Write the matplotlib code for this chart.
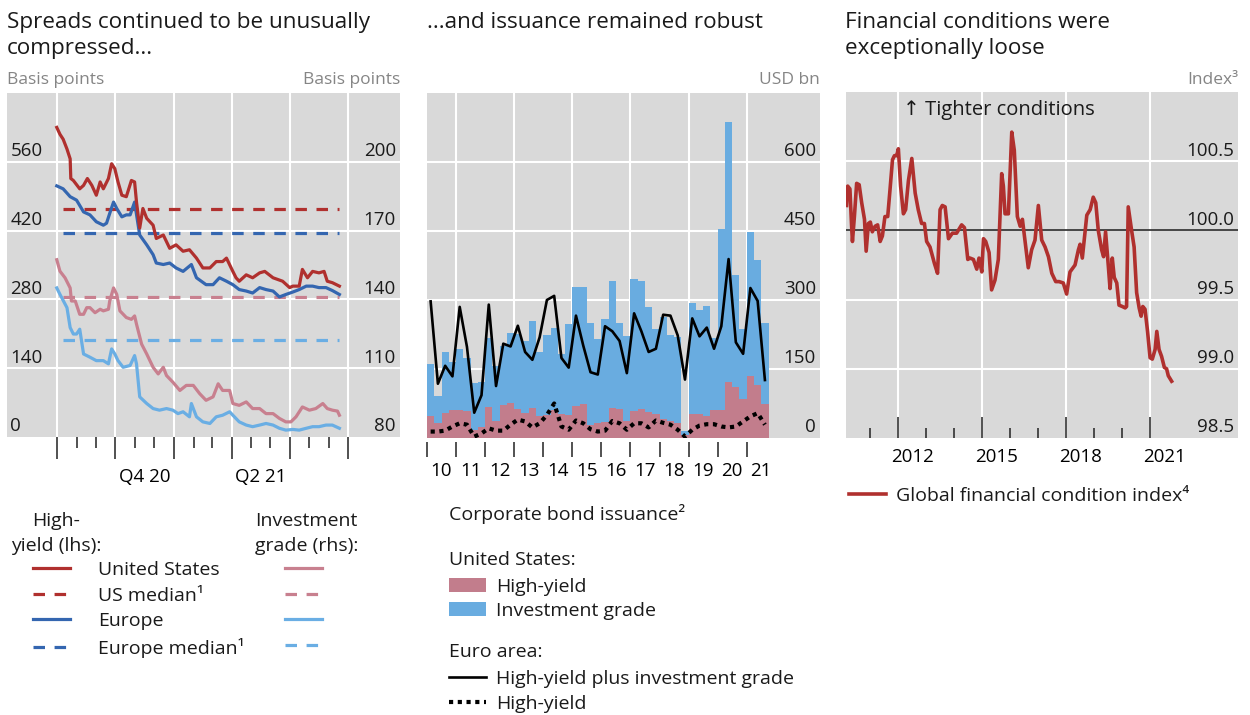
import matplotlib
matplotlib.use("Agg")
import matplotlib.pyplot as plt
import numpy as np
import pandas as pd

plt.rcParams.update({
    "font.family": ["Open Sans", "DejaVu Sans"],
    "font.size": 14,
    "text.color": "#1a1a1a",
})

# ---------------- panel 1: spreads, days since 1 Jul 2020 ----------------
START = pd.Timestamp("2020-07-01")
us_hy_day = [0, 5, 10, 16, 21, 22, 26, 36, 42, 48, 55, 62, 68, 73, 81, 86, 91, 96, 102, 109,
             117, 122, 125, 130, 135, 141, 151, 156, 167, 177, 187, 198, 208, 219, 229, 240,
             250, 260, 266, 276, 281, 286, 297, 307, 318, 326, 339, 354, 365, 370, 380, 385,
             393, 401, 411, 419, 424, 432, 443]
us_hy_bp = [630, 616, 606, 586, 566, 526, 522, 505, 512, 526, 512, 492, 519, 505, 526, 556,
            546, 519, 492, 489, 522, 519, 478, 425, 465, 445, 431, 404, 411, 384, 391, 378,
            381, 364, 344, 344, 357, 357, 364, 337, 324, 317, 330, 324, 334, 337, 324, 317,
            304, 307, 307, 341, 324, 337, 334, 337, 317, 314, 307]
eu_hy_day = [0, 10, 21, 31, 42, 52, 62, 73, 78, 83, 89, 94, 102, 109, 115, 122, 130, 141,
             151, 156, 167, 177, 187, 198, 211, 219, 234, 245, 255, 266, 276, 286, 297, 307,
             318, 328, 339, 349, 359, 370, 380, 391, 401, 411, 422, 432, 443]
eu_hy_bp = [511, 505, 489, 482, 458, 452, 438, 431, 435, 455, 478, 465, 448, 452, 452, 478,
            411, 391, 371, 354, 351, 354, 344, 337, 351, 324, 310, 310, 324, 317, 310, 300,
            297, 293, 304, 300, 297, 285, 290, 295, 300, 307, 307, 304, 304, 298, 290]
us_ig_day = [0, 5, 13, 21, 23, 29, 36, 42, 47, 52, 60, 68, 73, 81, 83, 89, 94, 99, 109, 117,
             122, 125, 133, 141, 151, 159, 167, 172, 182, 193, 203, 214, 224, 234, 245, 253,
             260, 271, 276, 286, 297, 307, 318, 328, 339, 349, 359, 367, 375, 385, 396, 406,
             417, 424, 432, 440, 443]
us_ig_bp = [157.3, 152.3, 149.4, 145.0, 139.3, 139.3, 133.5, 133.5, 136.4, 136.4, 134.2,
            135.7, 135.0, 135.7, 139.3, 145.0, 142.2, 135.0, 132.1, 131.3, 132.8, 129.2,
            120.5, 116.2, 110.4, 107.5, 110.4, 106.8, 103.9, 100.3, 102.5, 102.5, 98.9, 96.0,
            97.5, 103.2, 100.3, 100.3, 94.6, 93.8, 95.3, 92.4, 92.4, 90.2, 90.2, 88.1, 86.6,
            86.6, 88.8, 93.1, 91.7, 92.4, 94.6, 92.4, 91.7, 91.3, 89.5]
eu_ig_day = [0, 5, 16, 21, 26, 31, 36, 42, 52, 62, 73, 81, 86, 91, 96, 104, 115, 122, 125,
             130, 141, 151, 161, 172, 182, 190, 198, 208, 211, 219, 229, 240, 250, 260, 271,
             276, 286, 297, 307, 318, 328, 339, 349, 359, 370, 380, 391, 401, 411, 422, 432,
             443]
eu_ig_bp = [145.0, 142.2, 136.4, 127.7, 124.9, 124.9, 127.0, 116.2, 114.8, 113.3, 113.3,
            111.9, 118.4, 116.2, 113.3, 110.4, 111.2, 115.5, 111.9, 97.5, 94.6, 92.4, 91.7,
            92.4, 91.7, 90.2, 91.0, 88.8, 94.6, 88.8, 86.6, 85.9, 88.8, 89.5, 91.0, 89.5,
            86.6, 85.2, 84.5, 85.2, 85.9, 85.2, 83.8, 83.0, 83.3, 83.0, 83.8, 84.5, 84.5,
            85.2, 85.2, 83.8]
median_days = [10, 443]
us_hy_median = 463
eu_hy_median = 415
us_ig_median = 141
eu_ig_median = 122.5
lhs_ticks = [0, 140, 280, 420, 560]
rhs_ticks = [80, 110, 140, 170, 200]
quarter_labels = ["Q4 20", "Q2 21"]
labelled_quarters = ["2020-10-01", "2021-04-01"]

# ---------------- panel 2: corporate bond issuance, USD bn ----------------
quarters = pd.period_range("2010Q1", "2021Q3", freq="Q")
us_hy_iss = [48, 33, 55, 60, 60, 58, 17, 24, 68, 37, 71, 76, 62, 55, 66, 48, 50, 60, 52, 49,
             70, 73, 28, 32, 35, 66, 62, 36, 58, 64, 56, 52, 42, 36, 33, 6, 52, 52, 48, 61,
             61, 122, 110, 84, 134, 116, 74]
us_ig_iss = [112, 58, 133, 105, 133, 116, 103, 98, 149, 119, 128, 153, 165, 156, 188, 140,
             175, 180, 130, 198, 259, 256, 221, 184, 224, 276, 189, 185, 288, 278, 228, 184,
             220, 189, 186, 9, 242, 227, 240, 157, 394, 566, 245, 154, 314, 272, 177]
ea_total_iss = [297, 118, 157, 134, 285, 198, 55, 93, 290, 113, 205, 199, 244, 187, 170, 219,
                300, 309, 174, 153, 266, 201, 143, 138, 243, 232, 211, 141, 271, 232, 187,
                194, 268, 266, 223, 127, 260, 221, 240, 194, 243, 389, 208, 183, 326, 298, 126]
ea_hy_iss = [14, 14, 16, 25, 32, 29, 3, 10, 21, 16, 16, 29, 40, 36, 23, 32, 50, 75, 25, 18,
             38, 32, 19, 14, 16, 37, 32, 18, 32, 32, 23, 38, 33, 29, 18, 3, 18, 27, 30, 30,
             25, 23, 25, 36, 47, 54, 29]
iss_ticks = [0, 150, 300, 450, 600]

# ---------------- panel 3: global financial conditions index ----------------
fci_year = [2010.15, 2010.19, 2010.27, 2010.33, 2010.36, 2010.43, 2010.51, 2010.60, 2010.69,
            2010.79, 2010.85, 2010.93, 2011.00, 2011.07, 2011.17, 2011.26, 2011.35, 2011.43,
            2011.52, 2011.62, 2011.70, 2011.79, 2011.86, 2011.94, 2012.00, 2012.08, 2012.18,
            2012.26, 2012.36, 2012.48, 2012.60, 2012.71, 2012.83, 2012.93, 2013.01, 2013.13,
            2013.29, 2013.40, 2013.49, 2013.57, 2013.67, 2013.79, 2013.93, 2014.08, 2014.26,
            2014.36, 2014.48, 2014.56, 2014.68, 2014.80, 2014.88, 2014.98, 2015.04, 2015.12,
            2015.24, 2015.33, 2015.45, 2015.57, 2015.69, 2015.75, 2015.81, 2015.93, 2016.05,
            2016.14, 2016.25, 2016.35, 2016.43, 2016.52, 2016.64, 2016.76, 2016.88, 2017.00,
            2017.12, 2017.24, 2017.36, 2017.48, 2017.62, 2017.74, 2017.89, 2018.01, 2018.13,
            2018.31, 2018.43, 2018.49, 2018.57, 2018.73, 2018.85, 2018.96, 2019.05, 2019.14,
            2019.26, 2019.33, 2019.40, 2019.50, 2019.56, 2019.64, 2019.71, 2019.80, 2019.88,
            2020.00, 2020.10, 2020.15, 2020.21, 2020.33, 2020.42, 2020.51, 2020.60, 2020.67,
            2020.73, 2020.81, 2020.90, 2020.99, 2021.07, 2021.17, 2021.23, 2021.31, 2021.40,
            2021.50, 2021.58, 2021.64, 2021.76]
fci_value = [100.18, 100.32, 100.30, 100.03, 99.92, 100.10, 100.34, 100.33, 100.20, 100.08,
             99.85, 100.05, 100.06, 99.99, 100.03, 100.04, 99.92, 99.96, 100.10, 100.10,
             100.29, 100.51, 100.54, 100.54, 100.59, 100.32, 100.12, 100.15, 100.36, 100.52,
             100.27, 100.15, 100.05, 100.05, 99.92, 99.88, 99.76, 99.69, 100.15, 100.18,
             100.17, 99.94, 99.98, 99.98, 100.04, 100.02, 99.79, 99.80, 99.79, 99.72, 99.80,
             99.70, 99.94, 99.92, 99.84, 99.57, 99.64, 99.79, 100.41, 100.32, 100.12, 100.12,
             100.71, 100.58, 100.10, 100.03, 100.08, 99.93, 99.73, 99.86, 99.93, 100.18,
             99.93, 99.88, 99.81, 99.69, 99.63, 99.63, 99.62, 99.54, 99.70, 99.75, 99.86,
             99.90, 99.80, 100.11, 100.15, 100.24, 100.20, 100.00, 99.86, 99.81, 99.99,
             99.74, 99.58, 99.80, 99.66, 99.62, 99.46, 99.45, 99.44, 99.45, 100.17, 100.00,
             99.88, 99.55, 99.44, 99.38, 99.45, 99.43, 99.27, 99.08, 99.07, 99.14, 99.27,
             99.14, 99.09, 99.01, 99.00, 98.95, 98.91]
fci_ticks = [98.5, 99.0, 99.5, 100.0, 100.5]
fci_neutral = 100.0

# ---------------- styling ----------------
RED, BLUE, PINK, LBLUE = "#B0302E", "#3466B0", "#C8808F", "#6AAEE4"
BAR_PINK, BAR_BLUE = "#C27D8C", "#69ACE0"
BG, GREY, TICK = "#D9D9D9", "#858585", "#222222"
W, H = 1250, 715
TICK_FS = 13.5

fig = plt.figure(figsize=(W / 100, H / 100), dpi=100)


def rect(x0, y0, x1, y1):
    return [x0 / W, 1 - y1 / H, (x1 - x0) / W, (y1 - y0) / H]


def base(ax):
    ax.set_facecolor(BG)
    for s in ax.spines.values():
        s.set_visible(False)
    ax.tick_params(axis="y", length=0, labelleft=False, labelright=False)
    ax.tick_params(axis="x", labelbottom=False, color=TICK, width=1.1)
    ax.set_axisbelow(True)


def ylabels(ax, ticks, side, fmt="{:g}"):
    for v in ticks:
        if side == "left":
            ax.annotate(fmt.format(v), xy=(0, v), xycoords=("axes fraction", "data"),
                        xytext=(2.5, 4), textcoords="offset points", ha="left",
                        va="baseline", fontsize=TICK_FS)
        else:
            ax.annotate(fmt.format(v), xy=(1, v), xycoords=("axes fraction", "data"),
                        xytext=(-3, 4), textcoords="offset points", ha="right",
                        va="baseline", fontsize=TICK_FS)


def xlabels(ax, pos, labels, pad):
    sec = ax.secondary_xaxis("bottom")
    sec.set_xticks(pos, labels=labels, fontsize=TICK_FS)
    sec.tick_params(length=0, pad=pad)
    sec.spines["bottom"].set_visible(False)


# ----- panel 1 -----
ax1 = fig.add_axes(rect(7, 93, 400, 437))
base(ax1)
ax1.set_ylim(0, 700)
ax1.set_yticks(lhs_ticks[1:])
ax1.set_xlim(-78, 538)
q_days = [(d - START).days for d in pd.date_range("2020-07-01", "2021-10-01", freq="QS")]
m_days = [(d - START).days for d in pd.date_range("2020-07-01", "2021-10-01", freq="MS")]
ax1.set_xticks(q_days)
ax1.set_xticks(m_days, minor=True)
ax1.tick_params(axis="x", which="major", length=16)
ax1.tick_params(axis="x", which="minor", length=8, color=TICK, width=1.1)
ax1.grid(True, which="major", color="white", lw=1.5)
mid_days = [(pd.Timestamp(q) - START).days + 45.5 for q in labelled_quarters]
xlabels(ax1, mid_days, quarter_labels, 22)

dash = (0, (3.6, 3.0))
l_usm, = ax1.plot(median_days, [us_hy_median] * 2, color=RED, lw=2.3, ls=dash)
l_eum, = ax1.plot(median_days, [eu_hy_median] * 2, color=BLUE, lw=2.3, ls=dash)
ax1r = ax1.twinx()
ax1r.set_ylim(80, 230)
for s in ax1r.spines.values():
    s.set_visible(False)
ax1r.tick_params(axis="y", length=0, labelright=False)
l_usigm, = ax1r.plot(median_days, [us_ig_median] * 2, color=PINK, lw=2.3, ls=dash)
l_euigm, = ax1r.plot(median_days, [eu_ig_median] * 2, color=LBLUE, lw=2.3, ls=dash)
l_euig, = ax1r.plot(eu_ig_day, eu_ig_bp, color=LBLUE, lw=2.3)
l_usig, = ax1r.plot(us_ig_day, us_ig_bp, color=PINK, lw=2.3)
# high-yield series on the left scale, drawn on the twin so they sit above the medians
l_eu, = ax1r.plot(eu_hy_day, np.array(eu_hy_bp) * 30 / 140 + 80, color=BLUE, lw=2.3)
l_us, = ax1r.plot(us_hy_day, np.array(us_hy_bp) * 30 / 140 + 80, color=RED, lw=2.3)
ylabels(ax1, lhs_ticks, "left")
ylabels(ax1r, rhs_ticks, "right")

# ----- panel 2 -----
ax2 = fig.add_axes(rect(427, 93, 820, 438))
base(ax2)
ax2.set_ylim(0, 750)
ax2.set_yticks(iss_ticks[1:])
ax2.set_xlim(2010, 2023.52)
qx = np.array(quarters.year + (quarters.quarter - 1) / 4, dtype=float)
years2 = list(range(2010, 2022))
ax2.set_xticks(years2[1::2])
ax2.set_xticks(years2, minor=True)
ax2.tick_params(axis="x", which="both", length=11, color=TICK, width=1.1)
ax2.spines["bottom"].set_position(("outward", 3))
ax2.grid(True, which="major", color="white", lw=1.5)
b_hy = ax2.bar(qx, us_hy_iss, width=0.25, align="edge", color=BAR_PINK, lw=0)
b_ig = ax2.bar(qx, us_ig_iss, width=0.25, align="edge", bottom=us_hy_iss, color=BAR_BLUE, lw=0)
l_tot, = ax2.plot(qx + 0.125, ea_total_iss, color="black", lw=1.9)
l_ehy, = ax2.plot(qx + 0.125, ea_hy_iss, color="black", lw=3.0, ls=(0, (1, 1.1)))
ylabels(ax2, iss_ticks, "right")
xlabels(ax2, [y + 0.5 for y in years2], [f"{y % 100:02d}" for y in years2], 17)

# ----- panel 3 -----
ax3 = fig.add_axes(rect(846, 92, 1238, 438))
base(ax3)
ax3.set_ylim(98.5, 101.0)
ax3.set_yticks([99.0, 99.5, 100.5])
ax3.set_xlim(2010.13, 2024.13)
years3 = list(range(2011, 2022))
ax3.set_xticks(years3[1::3])
ax3.set_xticks(years3, minor=True)
ax3.tick_params(axis="x", which="major", direction="in", length=15)
ax3.tick_params(axis="x", which="minor", direction="in", length=7.5, color=TICK, width=1.1)
ax3.grid(True, which="major", color="white", lw=1.5)
ax3.axhline(fci_neutral, color="#3a3a3a", lw=1.3)
l_fci, = ax3.plot(fci_year, fci_value, color=RED, lw=2.6)
ylabels(ax3, fci_ticks, "right", "{:.1f}")
xlabels(ax3, [y + 0.5 for y in years3[1::3]], [str(y) for y in years3[1::3]], 7.5)
ax3.text(0.145, 0.948, "↑ Tighter conditions", transform=ax3.transAxes, va="center",
         fontsize=14.5)

# ----- titles and units -----
tkw = dict(va="top", fontsize=16.2, linespacing=1.31)
fig.text(7 / W, 1 - 12 / H, "Spreads continued to be unusually\ncompressed...", **tkw)
fig.text(427 / W, 1 - 12 / H, "...and issuance remained robust", **tkw)
fig.text(845 / W, 1 - 12 / H, "Financial conditions were\nexceptionally loose", **tkw)
ukw = dict(va="center", fontsize=12.5, color=GREY)
fig.text(7 / W, 1 - 80 / H, "Basis points", **ukw)
fig.text(400 / W, 1 - 80 / H, "Basis points", ha="right", **ukw)
fig.text(820 / W, 1 - 80 / H, "USD bn", ha="right", **ukw)
fig.text(1238 / W, 1 - 80 / H, "Index³", ha="right", **ukw)

# ----- legends -----
lkw = dict(loc="upper left", frameon=False, borderpad=0, borderaxespad=0,
           handlelength=1.9, labelspacing=0.39)
fig.text(56 / W, 1 - 512 / H, "High-\nyield (lhs):", ha="center", va="top",
         multialignment="center", linespacing=1.5)
fig.text(255 / W, 1 - 512 / H, "Investment\ngrade (rhs):", va="top", linespacing=1.5)
fig.legend([l_us, l_usm, l_eu, l_eum],
           ["United States", "US median¹", "Europe", "Europe median¹"],
           bbox_to_anchor=(33 / W, 1 - 561 / H), handletextpad=1.44, **lkw)
fig.legend([l_usig, l_usigm, l_euig, l_euigm], [" "] * 4,
           bbox_to_anchor=(285 / W, 1 - 561 / H), handletextpad=0.5, **lkw)

fig.text(449 / W, 1 - 514 / H, "Corporate bond issuance²", va="center")
fig.text(449 / W, 1 - 560 / H, "United States:", va="center")
fig.legend([b_hy, b_ig], ["High-yield", "Investment grade"],
           bbox_to_anchor=(449 / W, 1 - 578 / H), handletextpad=0.52, handleheight=0.72,
           **{**lkw, "labelspacing": 0.29})
fig.text(449 / W, 1 - 652 / H, "Euro area:", va="center")
fig.legend([l_tot, l_ehy], ["High-yield plus investment grade", "High-yield"],
           bbox_to_anchor=(449 / W, 1 - 670 / H), handletextpad=0.52,
           **{**lkw, "labelspacing": 0.34})

fig.legend([l_fci], ["Global financial condition index⁴"],
           bbox_to_anchor=(849 / W, 1 - 487 / H), handletextpad=0.52, **lkw)

fig.savefig("out.png", dpi=100)
